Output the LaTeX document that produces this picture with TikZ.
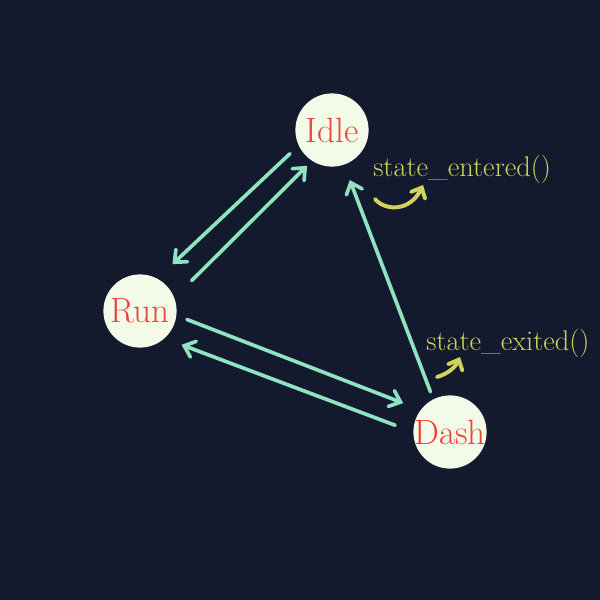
\documentclass[tikz,border=0pt]{standalone}
\usetikzlibrary{arrows.meta}

\definecolor{bgnavy}{HTML}{131A2E}
\definecolor{statefill}{HTML}{F3FBE8}
\definecolor{statered}{HTML}{E8453C}
\definecolor{mint}{HTML}{8FE3C0}
\definecolor{hookyellow}{HTML}{D2D35A}

\tikzset{
  state/.style={circle, fill=statefill, inner sep=0pt, minimum size=1.83cm,
    text=statered, font=\fontsize{25}{30}\selectfont},
  move/.style={draw=mint, line width=2.6pt, line cap=round,
    -{Straight Barb[length=7pt, width=12pt, line cap=round]}},
  hook/.style={draw=hookyellow, line width=2.8pt, line cap=round,
    -{Straight Barb[length=6pt, width=11pt, line cap=round]}},
  hooklabel/.style={text=hookyellow, anchor=west, inner sep=0pt,
    font=\fontsize{20.2}{24}\selectfont}
}

\begin{document}
\begin{tikzpicture}[x=0.025cm, y=-0.025cm]

  % background
  \useasboundingbox (0, 0) rectangle (600, 600);
  \fill[bgnavy] (0, 0) rectangle (600, 600);

  % states
  \node[state] (idle) at (332, 130) {Idle};
  \node[state] (run)  at (140, 311) {Run};
  \node[state] (dash) at (450, 432) {\makebox[0pt]{Dash}};

  % transitions
  \draw[move, shorten <=0.295cm, shorten >=0.52cm] (idle.205.6) -- (run.62.2);
  \draw[move, shorten <=0.61cm, shorten >=0.17cm] (run.21) -- (idle.237.3);
  \draw[move, shorten <=0.275cm, shorten >=0.465cm] (run.353.6) -- (dash.143.2);
  \draw[move, shorten <=0.48cm, shorten >=0.45cm] (dash.180) -- (run.312.4);
  \draw[move, shorten <=0.195cm, shorten >=0.405cm] (dash.117.9) -- (idle.289.5);

  % signals
  \node[hooklabel] (entered) at (373, 169) {state\_entered()};
  \node[hooklabel] (exited)  at (426, 343) {state\_exited()};

  \coordinate (entered start) at (375, 199);
  \coordinate (entered end) at (423, 185);
  \coordinate (exited start) at (437, 377);
  \coordinate (exited end) at (460, 357);

  \draw[hook] (entered start) .. controls (385, 211) and (410, 212) .. (entered end);
  \draw[hook] (exited start) .. controls (447, 374) and (455, 368) .. (exited end);

\end{tikzpicture}
\end{document}
